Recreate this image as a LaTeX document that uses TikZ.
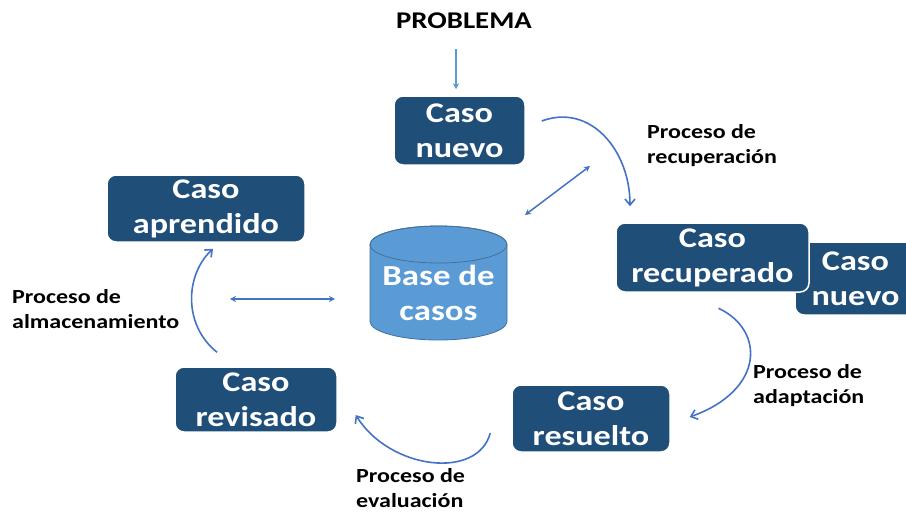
\documentclass[tikz,border=0pt]{standalone}
\usepackage{fontspec}
\setmainfont{Carlito}[FakeStretch=1.2]
\usepackage{xcolor}
\usetikzlibrary{arrows.meta}
\definecolor{azul}{RGB}{31,78,121}
\definecolor{celeste}{RGB}{91,155,213}
\definecolor{borde}{RGB}{65,113,156}
\definecolor{linea}{RGB}{68,114,196}
\tikzset{
  caja/.style={rectangle, rounded corners=9pt, fill=azul, draw=white, line width=1.5pt,
    text=white, font=\bfseries\fontsize{28.5}{35}\selectfont, align=center, inner sep=0pt},
  proc/.style={anchor=west, align=left, inner sep=0pt, font=\bfseries\fontsize{20}{25}\selectfont},
  flecha/.style={draw=linea, line width=1.6pt, -{Straight Barb[length=6pt,width=10pt]}},
  doble/.style={draw=linea, line width=1.5pt, {Stealth[length=6pt,width=6pt]}-{Stealth[length=6pt,width=6pt]}}
}
\begin{document}
\begin{tikzpicture}[x=1pt, y=-1pt]
  \useasboundingbox (0,0) rectangle (906,512);
  \node[inner sep=0pt, font=\bfseries\fontsize{24}{28}\selectfont] (prob) at (464,21) {PROBLEMA};
  \node[caja, minimum width=131, minimum height=69] (nuevo) at (459.5,130.5) {Caso\\nuevo};
  \node[caja, minimum width=198, minimum height=67] (aprendido) at (206,208.5) {Caso\\aprendido};
  \node[caja, minimum width=121, minimum height=73] (otro) at (855.5,278.5) {Caso\\nuevo};
  \node[caja, minimum width=193, minimum height=69] (recuperado) at (712.5,257.5) {Caso\\recuperado};
  \node[caja, minimum width=162, minimum height=65] (revisado) at (256,399.5) {Caso\\revisado};
  \node[caja, minimum width=158, minimum height=67] (resuelto) at (591,418.5) {Caso\\resuelto};
  \path[fill=celeste, draw=borde, line width=0.8pt] (370,244.5) -- (370,321.5)
    arc[start angle=180, end angle=360, x radius=68.5pt, y radius=18.5pt] -- (507,244.5)
    arc[start angle=0, end angle=180, x radius=68.5pt, y radius=18.5pt] -- cycle;
  \draw[borde, line width=0.8pt] (438.5,244.5) ellipse[x radius=68.5pt, y radius=18.5pt];
  \node[text=white, align=center, inner sep=0pt, font=\bfseries\fontsize{29}{35}\selectfont] (base) at (438.5,293) {Base de\\casos};
  \node[proc] (l1) at (647,145.5) {Proceso de\\recuperación};
  \node[proc] (l2) at (12,309.5) {Proceso de\\almacenamiento};
  \node[proc] (l3) at (753,386) {Proceso de\\adaptación};
  \node[proc] (l4) at (356,488) {Proceso de\\evaluación};
  \coordinate (d1) at (525,215);
  \coordinate (d2) at (590,166);
  \coordinate (h1) at (230,299);
  \coordinate (h2) at (335,299);
  \draw[draw=celeste, line width=1.3pt, -{Stealth[length=6pt,width=6pt]}] ([xshift=-8pt,yshift=-20pt]prob.south) -- ([xshift=-3.5pt,yshift=6pt]nuevo.north);
  \draw[flecha] ([shift={(16,-9.5)}]nuevo.east) .. controls (590,103) and (630,150) .. ([shift={(-82.5,-16)}]recuperado.north);
  \draw[flecha] ([shift={(6,15.5)}]recuperado.south) .. controls (765,330) and (765,390) .. ([shift={(19,-1.5)}]resuelto.east);
  \draw[flecha] ([shift={(-21,14.5)}]resuelto.west) .. controls (478,480) and (390,470) .. ([shift={(18,15.5)}]revisado.east);
  \draw[flecha] ([shift={(-39,-14)}]revisado.north) .. controls (183,325) and (185,275) .. ([shift={(7,6)}]aprendido.south);
  \draw[doble] (d1) -- (d2);
  \draw[doble] (h1) -- (h2);
\end{tikzpicture}
\end{document}
